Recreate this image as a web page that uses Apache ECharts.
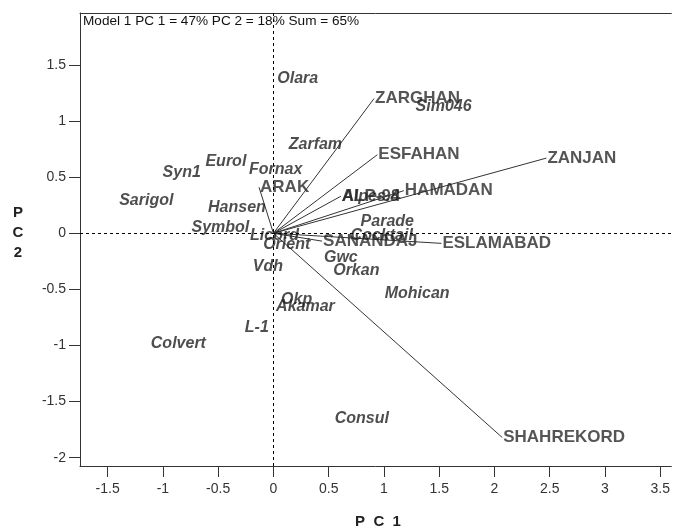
<!DOCTYPE html>
<html>
<head>
<meta charset="utf-8">
<script src="https://cdn.jsdelivr.net/npm/echarts@6/dist/echarts.min.js"></script>
<style>html,body{margin:0;padding:0;background:#fff}#c{width:673px;height:530px}</style>
</head>
<body>
<div id="c"></div>
<script>
// Tick labels
const xTicks = [-1.5, -1, -0.5, 0, 0.5, 1, 1.5, 2, 2.5, 3, 3.5];
const yTicks = [-2, -1.5, -1, -0.5, 0, 0.5, 1, 1.5];

// Environments (vector end points)
const envNames = ['ZARGHAN', 'ESFAHAN', 'ZANJAN', 'HAMADAN', 'ESLAMABAD', 'SANANDAJ', 'SHAHREKORD', 'ARAK', 'ALP-94'];
const envPC1 = [0.91, 0.94, 2.47, 1.18, 1.52, 0.44, 2.07, -0.13, 0.61];
const envPC2 = [1.20, 0.70, 0.67, 0.38, -0.09, -0.07, -1.82, 0.41, 0.33];

// Genotypes (label centres)
const genNames = ['Olara', 'Sim046', 'Zarfam', 'Eurol', 'Fornax', 'Syn1', 'Sarigol', 'Hansen', 'Symbol', 'Licord', 'Orient', 'Vdh', 'Parade', 'Cocktail', 'Gwc', 'Orkan', 'Mohican', 'Okp', 'Akamar', 'L-1', 'Colvert', 'Consul', 'Alpes.8'];
const genPC1 = [0.22, 1.54, 0.38, -0.43, 0.02, -0.83, -1.15, -0.33, -0.48, 0.01, 0.12, -0.05, 1.03, 0.98, 0.61, 0.75, 1.30, 0.21, 0.29, -0.15, -0.86, 0.80, 0.88];
const genPC2 = [1.38, 1.13, 0.79, 0.64, 0.57, 0.54, 0.29, 0.23, 0.05, -0.02, -0.10, -0.30, 0.10, -0.02, -0.22, -0.33, -0.54, -0.59, -0.65, -0.84, -0.98, -1.65, 0.33];

const titleText = 'Model 1 PC 1 = 47% PC 2 = 18% Sum = 65%';

const FONT = 'Liberation Sans, Arial, sans-serif';
const chart = echarts.init(document.getElementById('c'), null, {renderer: 'canvas'});

const envData = envNames.map((n, i) => ({name: n, value: [envPC1[i], envPC2[i]]}));
const genData = genNames.map((n, i) => ({name: n, value: [genPC1[i], genPC2[i]]}));
const vecData = envNames.map((n, i) => ({coords: [[0, 0], [envPC1[i], envPC2[i]]]}));

chart.setOption({
  animation: false,
  grid: {left: 80, right: 0, top: 13, bottom: 64},
  xAxis: [{
    type: 'value', min: -1.75, max: 3.6,
    splitLine: {show: false},
    axisLine: {show: true, onZero: false, lineStyle: {color: '#333', width: 1}},
    axisTick: {show: true, length: 11, customValues: xTicks, lineStyle: {color: '#333'}},
    axisLabel: {show: true, customValues: xTicks, margin: 16, color: '#333', fontSize: 14, fontFamily: FONT}
  }, {
    type: 'value', min: -1.75, max: 3.6, position: 'top',
    splitLine: {show: false},
    axisLine: {show: true, onZero: false, lineStyle: {color: '#333', width: 1}},
    axisTick: {show: false}, axisLabel: {show: false}
  }],
  yAxis: {
    type: 'value', min: -2.074, max: 1.963,
    splitLine: {show: false},
    axisLine: {show: true, onZero: false, lineStyle: {color: '#333', width: 1}},
    axisTick: {show: true, length: 11, customValues: yTicks, lineStyle: {color: '#333'}},
    axisLabel: {show: true, customValues: yTicks, margin: 14, color: '#333', fontSize: 14, fontFamily: FONT}
  },
  graphic: [
    {type: 'text', left: 83, top: 14, style: {text: titleText, font: '13.6px ' + FONT, fill: '#111'}},
    {type: 'text', x: 378, y: 522, style: {text: 'P  C  1', font: 'bold 15px ' + FONT, fill: '#222', textAlign: 'center', textVerticalAlign: 'middle'}},
    {type: 'text', x: 18, y: 233, style: {text: 'P\nC\n2', font: 'bold 15px ' + FONT, lineHeight: 20, fill: '#222', textAlign: 'center', textVerticalAlign: 'middle'}}
  ],
  series: [
    {
      type: 'lines', coordinateSystem: 'cartesian2d', data: vecData, silent: true,
      lineStyle: {color: '#333', width: 1, opacity: 1}, symbol: 'none', z: 2
    },
    {
      type: 'scatter', data: envData, symbolSize: 0, silent: true, z: 3,
      label: {show: true, position: 'right', distance: 1, formatter: p => p.name, color: '#2a2a2a', fontSize: 17, fontWeight: 'bold', fontFamily: FONT}
    },
    {
      type: 'scatter', data: genData, symbolSize: 0, silent: true, z: 3,
      label: {show: true, position: 'inside', formatter: p => p.name, color: '#222', fontSize: 16, fontWeight: 'bold', fontStyle: 'italic', fontFamily: FONT},
      markLine: {
        silent: true, symbol: 'none', animation: false,
        label: {show: false},
        lineStyle: {type: [3, 3], color: '#000', width: 1},
        data: [{xAxis: 0}, {yAxis: 0}]
      }
    }
  ]
});
</script>
</body>
</html>
